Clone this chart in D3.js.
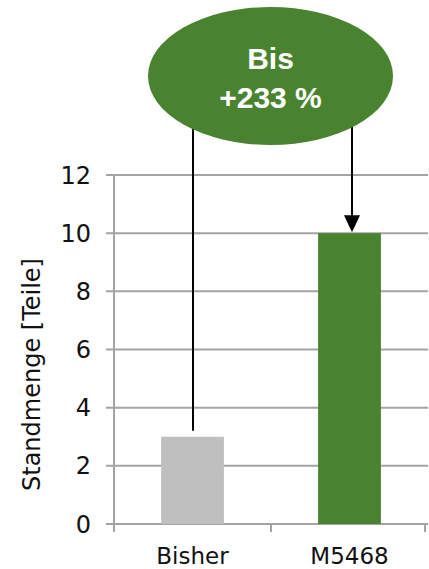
<!DOCTYPE html>
<html>
<head>
<meta charset="utf-8">
<script src="https://cdn.jsdelivr.net/npm/d3@7"></script>
<style>
  body { margin: 0; background: #fff; }
  svg { display: block; }
</style>
</head>
<body>
<div id="chart"></div>
<script>
// data
var categories = ["Bisher", "M5468"];
var values = [3, 10];
var barColors = ["#bfbfbf", "#4a832f"];
var yTicks = [0, 2, 4, 6, 8, 10, 12];
var yLabel = "Standmenge [Teile]";
var bubbleLines = ["Bis", "+233 %"];

var width = 429, height = 569;
var margin = {top: 175, right: 1, bottom: 45, left: 114};

var svg = d3.select("#chart").append("svg")
    .attr("width", width)
    .attr("height", height);

var x = d3.scaleBand()
    .domain(categories)
    .range([margin.left, width - margin.right])
    .padding(0);

var y = d3.scaleLinear()
    .domain([0, 12])
    .range([height - margin.bottom, margin.top]);

var gridColor = "#a3a3a3";
var font = "'DejaVu Sans', Verdana, sans-serif";

// gridlines + left ticks
svg.append("g")
    .selectAll("line")
    .data(yTicks)
    .enter()
    .append("line")
        .attr("x1", margin.left - 8)
        .attr("x2", width - margin.right)
        .attr("y1", function(d){ return y(d); })
        .attr("y2", function(d){ return y(d); })
        .style("stroke", gridColor)
        .style("stroke-width", 2);

// y tick labels
svg.append("g")
    .selectAll("text")
    .data(yTicks)
    .enter()
    .append("text")
        .attr("x", margin.left - 23)
        .attr("y", function(d){ return y(d); })
        .attr("dy", "0.36em")
        .attr("text-anchor", "end")
        .attr("font-family", font)
        .attr("font-size", "24px")
        .attr("fill", "#111")
        .text(function(d){ return d; });

// bars
var barW = x.bandwidth() * 0.4;
svg.append("g")
    .selectAll("rect")
    .data(values)
    .enter()
    .append("rect")
        .attr("x", function(d, i){ return x(categories[i]) + (x.bandwidth() - barW) / 2; })
        .attr("y", function(d){ return y(d); })
        .attr("width", barW)
        .attr("height", function(d){ return y(0) - y(d); })
        .style("fill", function(d, i){ return barColors[i]; });

// axes lines
svg.append("line")
    .attr("x1", margin.left).attr("x2", margin.left)
    .attr("y1", y(12)).attr("y2", y(0) + 8)
    .style("stroke", gridColor).style("stroke-width", 2);

// x ticks at band edges
var edges = categories.map(function(c){ return x(c); }).concat([x(categories[categories.length - 1]) + x.bandwidth() - 3]);
svg.append("g")
    .selectAll("line")
    .data(edges.slice(1))
    .enter()
    .append("line")
        .attr("x1", function(d){ return d; })
        .attr("x2", function(d){ return d; })
        .attr("y1", y(0))
        .attr("y2", y(0) + 8)
        .style("stroke", gridColor)
        .style("stroke-width", 2);

// x labels
svg.append("g")
    .selectAll("text")
    .data(categories)
    .enter()
    .append("text")
        .attr("x", function(d){ return x(d) + x.bandwidth() / 2; })
        .attr("y", y(0) + 40)
        .attr("text-anchor", "middle")
        .attr("font-family", font)
        .attr("font-size", "23px")
        .attr("fill", "#111")
        .text(function(d){ return d; });

// y label
svg.append("text")
    .attr("transform", "translate(40," + ((y(0) + y(12)) / 2 + 25) + ") rotate(-90)")
    .attr("text-anchor", "middle")
    .attr("font-family", font)
    .attr("font-size", "24px")
    .attr("fill", "#111")
    .text(yLabel);

// bubble
var cx = 270.5, cy = 76, rx = 122.5, ry = 69;

// connector lines (from bubble edge down to bar tops)
var lineX = [x(categories[0]) + x.bandwidth() / 2 + 0.5, x(categories[1]) + x.bandwidth() / 2 + 2.5];
svg.append("line")
    .attr("x1", lineX[0]).attr("x2", lineX[0])
    .attr("y1", 120).attr("y2", y(values[0]) - 6)
    .style("stroke", "#000").style("stroke-width", 2);

var tipY = y(values[1]) - 1;
svg.append("line")
    .attr("x1", lineX[1]).attr("x2", lineX[1])
    .attr("y1", 118).attr("y2", tipY - 14)
    .style("stroke", "#000").style("stroke-width", 2);
svg.append("path")
    .attr("d", "M" + (lineX[1] - 8) + "," + (tipY - 17) + "L" + (lineX[1] + 8) + "," + (tipY - 17) + "L" + lineX[1] + "," + tipY + "Z")
    .style("fill", "#000");

svg.append("ellipse")
    .attr("cx", cx).attr("cy", cy)
    .attr("rx", rx).attr("ry", ry)
    .style("fill", "#4a832f");

svg.append("g")
    .selectAll("text")
    .data(bubbleLines)
    .enter()
    .append("text")
        .attr("x", cx)
        .attr("y", function(d, i){ return 69 + i * 39; })
        .attr("text-anchor", "middle")
        .attr("font-family", "'Liberation Sans', Arial, sans-serif")
        .attr("font-weight", "bold")
        .attr("font-size", "30px")
        .attr("fill", "#fff")
        .text(function(d){ return d; });
</script>
</body>
</html>
